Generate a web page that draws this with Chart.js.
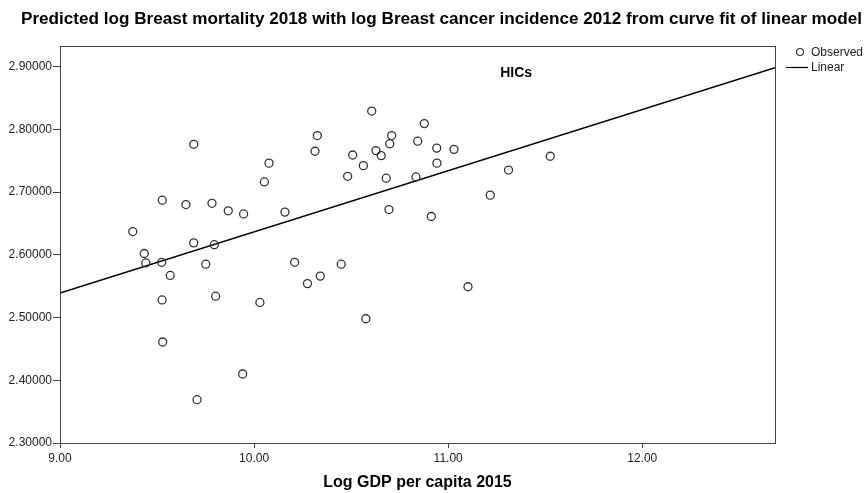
<!DOCTYPE html>
<html>
<head>
<meta charset="utf-8">
<script src="https://cdn.jsdelivr.net/npm/chart.js@4.4.1/dist/chart.umd.min.js"></script>
<style>
  html, body { margin: 0; padding: 0; background: #fff; }
  #wrap { width: 865px; height: 493px; }
</style>
</head>
<body>
<div id="wrap"><canvas id="grafico" width="865" height="493"></canvas></div>
<script>
// Log GDP per capita 2015 (x) / log Breast mortality 2018 (y), HICs
const gdpLog = [
    9.689, 10.077, 10.053, 9.527, 9.649, 9.783, 9.867, 9.946, 10.159, 9.375,
    9.689, 9.795, 9.434, 9.442, 9.524, 9.751, 10.209, 9.568, 10.275, 9.526,
    9.802, 10.030, 9.529, 9.941, 9.706, 10.606, 10.877, 10.326, 10.709, 10.699,
    10.843, 10.314, 10.508, 10.628, 10.655, 10.941, 11.030, 10.563, 10.942, 10.482,
    10.681, 10.834, 11.311, 11.217, 10.695, 10.913, 10.449, 10.341, 11.102, 10.576,
    11.526
];
const mortalidadeLog = [
    2.776, 2.746, 2.716, 2.687, 2.680, 2.682, 2.670, 2.665, 2.668, 2.637,
    2.619, 2.616, 2.602, 2.587, 2.588, 2.585, 2.588, 2.567, 2.554, 2.528,
    2.534, 2.524, 2.461, 2.410, 2.369, 2.829, 2.809, 2.790, 2.790, 2.777,
    2.781, 2.765, 2.759, 2.766, 2.758, 2.770, 2.768, 2.742, 2.746, 2.725,
    2.722, 2.724, 2.735, 2.695, 2.672, 2.661, 2.585, 2.566, 2.549, 2.498,
    2.757
];

// reta do modelo linear (extremos do eixo x)
const linearX = [9.00, 12.684];
const linearY = [2.539, 2.898];

const xTicks = [9, 10, 11, 12];
const yTicks = [2.3, 2.4, 2.5, 2.6, 2.7, 2.8, 2.9];

const titulo = 'Predicted log Breast mortality 2018 with log Breast cancer incidence 2012 from curve fit of linear model';
const tituloX = 'Log GDP per capita 2015';
const rotulo = { texto: 'HICs', x: 11.35, y: 2.890 };

const pontos = gdpLog.map(function (x, i) { return { x: x, y: mortalidadeLog[i] }; });
const reta = linearX.map(function (x, i) { return { x: x, y: linearY[i] }; });

const FONTE = '"Liberation Sans", Arial, sans-serif';

// moldura, titulo, legenda e rotulo HICs
const extras = {
    id: 'extras',
    afterDraw(chart) {
        const ctx = chart.ctx;
        const area = chart.chartArea;
        ctx.save();

        ctx.strokeStyle = '#444';
        ctx.lineWidth = 1;
        ctx.strokeRect(area.left + 0.5, area.top + 0.5, area.right - area.left, area.bottom - area.top);

        // titulo (fonte condensada como no original)
        ctx.fillStyle = '#000';
        ctx.font = 'bold 16px ' + FONTE;
        ctx.textBaseline = 'alphabetic';
        ctx.textAlign = 'left';
        const w = ctx.measureText(titulo).width;
        const alvo = 841;
        ctx.save();
        ctx.translate(21, 24);
        ctx.scale(alvo / w, 1);
        ctx.fillText(titulo, 0, 0);
        ctx.restore();

        // legenda
        ctx.textBaseline = 'middle';
        ctx.font = '12px ' + FONTE;
        ctx.fillStyle = '#222';
        ctx.beginPath();
        ctx.arc(800, 52, 3.5, 0, Math.PI * 2);
        ctx.strokeStyle = '#333';
        ctx.lineWidth = 1.2;
        ctx.stroke();
        ctx.fillText('Observed', 811, 53);
        ctx.beginPath();
        ctx.moveTo(786, 67.5);
        ctx.lineTo(808, 67.5);
        ctx.strokeStyle = '#000';
        ctx.lineWidth = 1.2;
        ctx.stroke();
        ctx.fillText('Linear', 811, 68);

        // rotulo
        ctx.font = 'bold 14px ' + FONTE;
        ctx.fillStyle = '#000';
        ctx.textAlign = 'center';
        ctx.fillText(rotulo.texto, chart.scales.x.getPixelForValue(rotulo.x), chart.scales.y.getPixelForValue(rotulo.y));
        ctx.restore();
    }
};

const config = {
    type: 'scatter',
    data: {
        datasets: [
            {
                label: 'Linear',
                type: 'line',
                data: reta,
                borderColor: '#000',
                borderWidth: 1.5,
                pointRadius: 0,
                fill: false,
                order: 2
            },
            {
                label: 'Observed',
                data: pontos,
                pointRadius: 4,
                pointBackgroundColor: 'rgba(255,255,255,0)',
                pointBorderColor: '#333',
                pointBorderWidth: 1.3,
                order: 1
            }
        ]
    },
    options: {
        responsive: false,
        animation: false,
        layout: { padding: { top: 46, right: 90, left: 0, bottom: 0 } },
        plugins: {
            legend: { display: false },
            title: { display: false },
            tooltip: { enabled: false }
        },
        scales: {
            x: {
                type: 'linear',
                min: 9,
                max: 12.684,
                afterFit: function (scale) { scale.height = 50; },
                afterBuildTicks: function (scale) { scale.ticks = xTicks.map(function (v) { return { value: v }; }); },
                ticks: {
                    callback: function (v) { return Number(v).toFixed(2); },
                    font: { family: FONTE, size: 12 },
                    color: '#222',
                    padding: 3,
                    maxRotation: 0
                },
                grid: { drawOnChartArea: false, tickLength: 5, color: '#444' },
                border: { color: '#444' },
                title: {
                    display: true,
                    text: tituloX,
                    font: { family: FONTE, size: 16, weight: 'bold' },
                    color: '#000',
                    padding: { top: 0, bottom: 1 }
                }
            },
            y: {
                type: 'linear',
                min: 2.30,
                max: 2.9327,
                afterFit: function (scale) { scale.width = 60; },
                afterBuildTicks: function (scale) { scale.ticks = yTicks.map(function (v) { return { value: v }; }); },
                ticks: {
                    callback: function (v) { return Number(v).toFixed(5); },
                    font: { family: FONTE, size: 12 },
                    color: '#222',
                    padding: 1
                },
                grid: { drawOnChartArea: false, tickLength: 7, color: '#444' },
                border: { color: '#444' }
            }
        }
    },
    plugins: [extras]
};

new Chart(document.getElementById('grafico'), config);
</script>
</body>
</html>
